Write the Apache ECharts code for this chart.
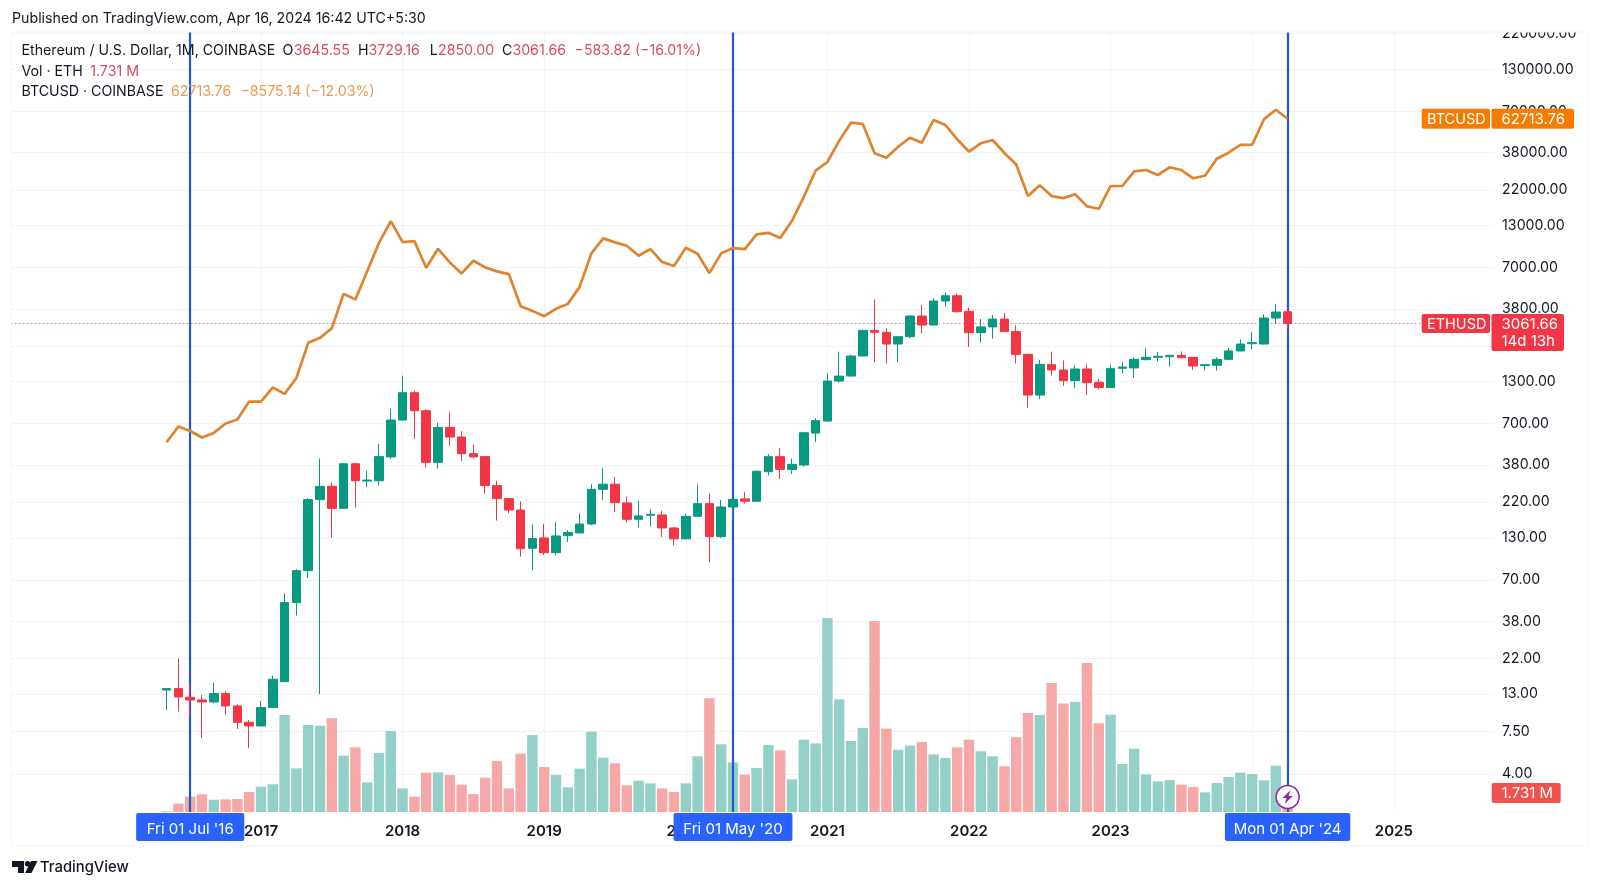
<!DOCTYPE html>
<html>
<head>
<meta charset="utf-8">
<style>html,body{margin:0;padding:0;background:#fff}#c{width:1600px;height:887px}</style>
<script src="https://cdn.jsdelivr.net/npm/echarts@6/dist/echarts.min.js"></script>
</head>
<body>
<div id="c"></div>
<script>
// Monthly bars May 2016 .. Apr 2024
const ethOpen = [13.8,14.1,12.41,11.93,11.58,13.1,10.92,8.58,8.13,10.66,15.62,50.1,80.2,228.6,278,201,388,300.6,302,429,739,1106,848,396,
663,575,450,431,281,232,196,111.6,130,104.6,134.5,139.9,159.6,266,287,217.6,171,181.5,182.4,150.5,128.2,178.8,215.5,132.4,205,231,223,345,
430.5,357,381,610,728,1313,1412,1899,2772,2692,2265,2524,3424,2998,4272,4618,3668,2680,2916,3271,2721,1946,1068,1671,1545,1320,1568,1288,1193,1584,
1592,1800,1862,1880,1917,1862,1648,1656,1808,2045,2276,2265,3324,3645.55];
const ethClose = [14.1,12.47,11.93,11.58,13.1,10.92,8.58,8.13,10.66,16.17,50.1,80.2,228.6,278,201,388,302,305,431,739,1106,848,396,663,
575,450,429,281,232,196,111,129,104.6,133.8,140.6,159.6,266,287,218.7,171,179.7,184,150.5,128.2,178.8,215.5,132.4,205,229.6,223,347,430.5,
357,384.6,613,732,1313,1412,1899,2772,2692,2265,2524,3424,2998,4272,4618,3650,2680,2916,3271,2721,1946,1068,1679,1545,1320,1568,1282,1193,1576,1615,
1808,1862,1890,1917,1853,1640,1671,1808,2045,2265,2312,3324,3632,3061.66];
const ethLow = [10.3,10.04,9.33,6.78,11.35,9.61,7.78,5.85,8.1,10.6,15.6,41.4,72,13,130.5,201,203,275.6,281,416,732,559,368,361,
506,404,420,250,168,187,98.6,80.6,101,100.6,122.4,139.9,157,227,190.6,163,152,153.5,131.8,116.6,127.6,178.8,90.7,130,170,215.5,223,327,
310,333,371.6,534,721,1282,1412,1899,1730,1700,1730,2463,2652,2998,3918,3596,2168,2312,2454,2708,1700,887,1008,1420,1222,1185,1068,1158,1187,1470,
1379,1782,1752,1623,1834,1545,1530,1530,1790,2035,2105,2255,3060,2850];
const ethHigh = [14.15,22,15.25,12.84,15.4,13.5,11.19,8.88,11.75,17,57.5,81.8,234,420,294,390,394,350,519,873,1421,1139,866,711,
828,628,514,435,302,235,223,159,160,165,146,187,287,364,319,239,224.6,199,193.5,152.8,186,287,251,227.5,232,255,351,448,
487,419,616,761,1470,2024,1936,2786,4377,2855,2537,3458,4026,4449,4826,4758,3870,3273,3474,3578,2986,1955,1796,2024,1780,1662,1679,1353,1679,1736,
1862,2136,2014,1936,2030,1871,1688,1862,2136,2422,2708,3508,4080,3729.16];
const volumeM = [0.05,0.63,1.16,1.34,0.93,0.96,0.98,1.52,1.92,2.1,7.35,3.31,6.59,6.54,7.1,4.27,4.9,2.25,4.47,6.14,1.79,1.16,2.98,3,
2.8,2.07,1.36,2.6,3.86,1.79,4.42,5.83,3.41,2.8,1.87,3.28,6.09,4.12,3.69,2.02,2.37,2.17,1.79,1.52,2.17,4.22,8.61,5.13,3.76,2.83,3.33,5.08,
4.67,2.47,5.48,5.2,14.7,8.54,5.38,6.36,14.47,6.31,4.72,5.03,5.3,4.37,4.09,4.9,5.48,4.6,4.22,3.46,5.66,7.5,7.35,9.77,8.23,8.33,11.29,6.72,7.37,3.64,
4.8,2.85,2.32,2.42,2.07,1.89,1.49,2.2,2.65,2.98,2.88,2.4,3.51,1.731];
const btcClose = [533,671,629,571,611,702,744,970,970,1194,1086,1374,2305,2481,2862,4746,4370,6632,10077,13876,10180,10333,6970,9225,
7548,6418,7728,7012,6610,6354,3959,3693,3416,3805,4095,5262,8620,10752,10135,9640,8320,9185,7583,7148,9360,8568,6446,8620,9319,9185,11407,11677,
10800,13937,19854,29161,33155,45375,59166,58050,37685,35320,41540,47425,44060,61572,57200,46326,38586,43672,45863,37850,31950,20060,23514,20060,19470,20590,17233,16635,23275,23275,
28905,29460,27370,30660,29460,26070,27085,34810,38015,42613,42780,62210,71670,62713.76];
const priceTicks = [220000,130000,70000,38000,22000,13000,7000,3800,2200,1300,700,380,220,130,70,38,22,13,7.5,4];
const yearMarks = ['2017','2018','2019','2020','2021','2022','2023','2024','2025'];
const markedBars = [['2016-07',"Fri 01 Jul '16",10.5],['2020-05',"Fri 01 May '20",9.7],['2024-04',"Mon 01 Apr '24",8.7]];

const FONT = 'Inter, "Liberation Sans", sans-serif';
const months = [];
for (let y = 2015, m = 4; months.length < 126; m++) {
  if (m > 12) { m = 1; y++; }
  months.push(y + '-' + String(m).padStart(2, '0'));
}
const firstIdx = months.indexOf('2016-05');
const catOf = i => months[firstIdx + i];
const GREEN = '#089981', RED = '#F23645';

const chart = echarts.init(document.getElementById('c'), null, {renderer: 'canvas'});
chart.setOption({
  animation: false,
  backgroundColor: '#fff',
  grid: {left: 7.3, right: 105.9, top: 32, bottom: 75},
  xAxis: {
    type: 'category', data: months, boundaryGap: true,
    axisLine: {show: false}, axisTick: {show: false}, splitLine: {show: false},
    axisLabel: {
      interval: (i, v) => v.endsWith('-01') && yearMarks.includes(v.slice(0, 4)),
      formatter: v => v.slice(0, 4),
      color: '#131722', fontFamily: FONT, fontSize: 15, fontWeight: 600, margin: 12
    }
  },
  yAxis: [{
    type: 'log', logBase: 10, position: 'right', min: 2.287, max: 225300,
    axisLine: {show: false}, axisTick: {show: false, customValues: priceTicks},
    splitLine: {show: true, lineStyle: {color: '#f1f3f6', width: 1}},
    axisLabel: {customValues: priceTicks, formatter: v => Number(v).toFixed(2), color: '#131722', fontFamily: FONT, fontSize: 14.2, margin: 8, padding: [4, 0, 0, 0]}
  }, {
    type: 'value', min: 0, max: 59.1, show: false, splitLine: {show: false}
  }],
  series: [{
    name: 'Vol', type: 'bar', yAxisIndex: 1, barWidth: 10.4, z: 2, silent: true,
    data: volumeM.map((v, i) => ({
      value: [catOf(i), v],
      itemStyle: {color: ethClose[i] >= ethOpen[i] ? '#93D1C8' : '#F6A7A7'}
    })),
    markLine: {
      silent: true, symbol: 'none', z: 0, animation: false,
      lineStyle: {color: '#f1f3f6', width: 1, type: 'solid'}, label: {show: false},
      data: yearMarks.map(y => ({xAxis: y + '-01'}))
    }
  }, {
    name: 'ETHUSD', type: 'candlestick', yAxisIndex: 0, barWidth: 9, z: 6, silent: true,
    encode: {x: 0, y: [1, 2, 3, 4]},
    data: ethOpen.map((o, i) => [catOf(i), o, ethClose[i], ethLow[i], ethHigh[i]]),
    itemStyle: {color: GREEN, borderColor: GREEN, color0: RED, borderColor0: RED, borderWidth: 1},
    markLine: {
      silent: true, symbol: 'none', z: 1, animation: false, label: {show: false},
      lineStyle: {color: '#F23645', width: 1, type: [1, 3]},
      data: [{yAxis: ethClose[ethClose.length - 1]}]
    }
  }, {
    name: 'BTCUSD', type: 'line', yAxisIndex: 0, z: 7, showSymbol: false, silent: true,
    data: btcClose.map((v, i) => [catOf(i), v]),
    lineStyle: {color: '#E0832B', width: 2.7}, itemStyle: {color: '#E0832B'},
    markLine: {
      silent: true, symbol: 'none', z: 5, animation: false,
      lineStyle: {color: '#2159C9', width: 2.2, type: 'solid'},
      data: markedBars.map(b => ({
        xAxis: b[0],
        label: {
          show: true, position: 'start', distance: 1, formatter: b[1], color: '#fff',
          backgroundColor: '#2962FF', borderRadius: 2, fontFamily: FONT, fontSize: 15, lineHeight: 15,
          padding: [9, b[2], 4, b[2]]
        }
      }))
    }
  }]
});

const yOf = v => chart.convertToPixel({yAxisIndex: 0}, v);
const xOf = c => chart.convertToPixel({xAxisIndex: 0}, c);
const txt = (x, y, text, color, opt) => ({
  type: 'text', z: 62, silent: true,
  style: Object.assign({x, y, text, fill: color, font: '14.2px ' + FONT, verticalAlign: 'middle'}, opt || {})
});
const rect = (x, y, w, h, fill, r) => ({type: 'rect', z: 61, silent: true, shape: {x, y, width: w, height: h, r: r || 0}, style: {fill}});
const line = (x1, y1, x2, y2) => ({type: 'line', z: 60, silent: true, shape: {x1, y1, x2, y2}, style: {stroke: '#f1f3f6', lineWidth: 1}});

const yBtc = yOf(btcClose[95]), yEth = yOf(ethClose[95]), xLast = xOf(months[firstIdx + 95]);
const INK = '#131722', VAL = '#DB4A5C', ORG = '#E99A4F';
const TAG = {font: '15px ' + FONT};
const legend = [
  [21.5, 51.2, 'Ethereum / U.S. Dollar, 1M, COINBASE', INK], [282.4, 51.2, 'O', INK], [293.7, 51.2, '3645.55', VAL],
  [358, 51.2, 'H', INK], [368.5, 51.2, '3729.16', VAL], [429.8, 51.2, 'L', INK], [438, 51.2, '2850.00', VAL],
  [502, 51.2, 'C', INK], [512.4, 51.2, '3061.66', VAL], [574.5, 51.2, '\u2212583.82 (\u221216.01%)', VAL],
  [21.5, 71.5, 'Vol \u00b7 ETH', INK], [90.2, 71.5, '1.731 M', VAL],
  [21.5, 91.5, 'BTCUSD \u00b7 COINBASE', INK], [171, 91.5, '62713.76', ORG], [240.4, 91.5, '\u22128575.14 (\u221212.03%)', ORG]
];
chart.setOption({graphic: {elements: [
  {type: 'rect', z: 50, silent: true, shape: {x: 0, y: 0, width: 1600, height: 32}, style: {fill: '#fff'}},
  {type: 'rect', z: 50, silent: true, shape: {x: 0, y: 32, width: 11.5, height: 830}, style: {fill: '#fff'}},
  line(11.5, 32, 1588, 32), line(11.5, 32, 11.5, 846), line(11.5, 846, 1588, 846), line(1588, 32, 1588, 846),
  txt(12, 19.2, 'Published on TradingView.com, Apr 16, 2024 16:42 UTC+5:30', INK),
  ...legend.map(l => txt(l[0], l[1], l[2], l[3])),
  rect(1421.7, yBtc - 10, 68.3, 20, '#F57C00', 2), rect(1491.5, yBtc - 10, 82.5, 20, '#F57C00', 2),
  txt(1427, yBtc + 0.8, 'BTCUSD', '#fff', {font: '14.5px ' + FONT}), txt(1501.5, yBtc + 0.8, btcClose[95].toFixed(2), '#fff', TAG),
  rect(1421.7, yEth - 9.5, 68.3, 19, RED, 2), rect(1491.5, yEth - 9.5, 72.5, 37, RED, 2),
  txt(1427, yEth + 0.8, 'ETHUSD', '#fff', {font: '14.5px ' + FONT}), txt(1501.5, yEth + 0.8, ethClose[95].toFixed(2), '#fff', TAG), txt(1501.5, yEth + 17.5, '14d 13h', '#fff', TAG),
  rect(1491.7, 783, 69, 20, '#EF5350', 2), txt(1501.5, 793.5, volumeM[95].toFixed(3) + ' M', '#fff', TAG),
  {type: 'circle', z: 61, silent: true, shape: {cx: xLast, cy: 797, r: 11.5}, style: {fill: '#fff', stroke: '#8E24AA', lineWidth: 1.5}},
  {type: 'polygon', z: 62, silent: true, shape: {points: [[xLast + 3, 790], [xLast - 5, 798], [xLast - 1, 798], [xLast - 3, 804], [xLast + 5, 796], [xLast + 1, 796]]}, style: {fill: '#8E24AA'}},
  {type: 'polygon', z: 62, silent: true, shape: {points: [[12, 861], [24, 861], [24, 873], [18, 873], [18, 867], [12, 867]]}, style: {fill: INK}},
  {type: 'circle', z: 62, silent: true, shape: {cx: 27.5, cy: 863.8, r: 2.7}, style: {fill: INK}},
  {type: 'polygon', z: 62, silent: true, shape: {points: [[31, 861], [37.5, 861], [31.5, 873], [25, 873]]}, style: {fill: INK}},
  txt(40, 867.5, 'TradingView', INK, {font: '500 14.8px ' + FONT})
]}});
</script>
</body>
</html>
